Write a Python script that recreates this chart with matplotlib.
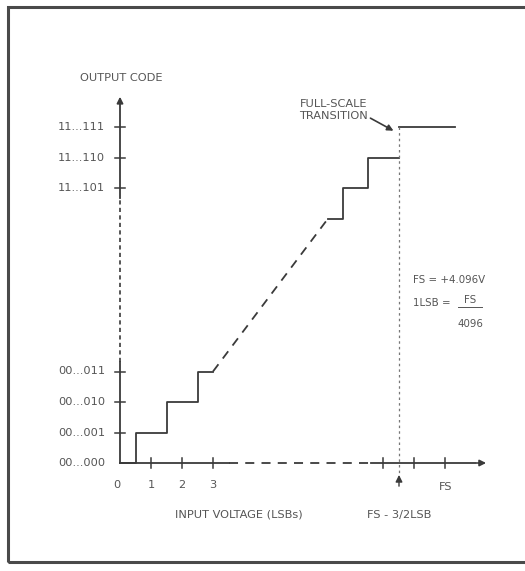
import numpy as np
import matplotlib.pyplot as plt
from matplotlib.patches import Rectangle

# Schematic ADC transfer function, units are LSBs on both axes
FS = 10.5                      # full scale position on the drawn input axis
X_END = 11.9                   # tip of input axis arrow
Y_END = 12.1                   # tip of output axis arrow

low_codes = ["00...000", "00...001", "00...010", "00...011"]
low_levels = [0, 1, 2, 3]
high_codes = ["11...101", "11...110", "11...111"]
high_levels = [9, 10, 11]

low_ticks = [1, 2, 3]
low_tick_labels = ["1", "2", "3"]
high_ticks = [FS - 2, FS - 1, FS]

# code transitions (input voltage where the output steps up)
low_transitions = [0.5, 1.5, 2.5]
high_transitions = [7.2, 8.0, FS - 1.5]
high_start = (6.7, 8)          # end of the dashed middle section
top_end = 10.8

INK = "#3a3a3a"
TXT = "#555555"
FONT = dict(family="DejaVu Sans", fontsize=8.2, color=TXT)
NOTE = dict(family="DejaVu Sans", fontsize=7.4, color=TXT)

fig = plt.figure(figsize=(5.25, 5.71), dpi=100)
ax = fig.add_axes([0, 0, 1, 1])
ax.set_xlim(-120 / 31, 405 / 31)
ax.set_ylim(-108 / 30.5, 463 / 30.5)
ax.axis("off")

# frame round the figure
fig.patches.append(Rectangle((8 / 525, 9 / 571), 1.2, 555 / 571, transform=fig.transFigure,
                             fill=False, lw=2.2, ec="#4a4a4a"))

# output axis: solid near the ends, dashed across the omitted codes
ax.plot([0, 0], [0, low_levels[-1] + 0.3], color=INK, lw=1.3)
ax.plot([0, 0], [low_levels[-1] + 0.3, high_levels[0] - 0.3], color=INK, lw=1.2, ls=(0, (2.5, 2)))
ax.plot([0, 0], [high_levels[0] - 0.3, Y_END - 0.4], color=INK, lw=1.3)
ax.annotate("", xy=(0, Y_END), xytext=(0, Y_END - 0.45),
            arrowprops=dict(arrowstyle="-|>", color=INK, lw=1.3, mutation_scale=9))

# input axis
ax.plot([0, 3.5], [0, 0], color=INK, lw=1.3)
ax.plot([3.5, 8.1], [0, 0], color=INK, lw=1.3, ls=(0, (5, 4)))
ax.plot([8.1, X_END - 0.4], [0, 0], color=INK, lw=1.3)
ax.annotate("", xy=(X_END, 0), xytext=(X_END - 0.45, 0),
            arrowprops=dict(arrowstyle="-|>", color=INK, lw=1.3, mutation_scale=9))

# tick marks
for lv in low_levels[1:] + high_levels:
    ax.plot([-0.15, 0.15], [lv, lv], color=INK, lw=1.1)
for t in low_ticks + high_ticks:
    ax.plot([t, t], [-0.18, 0.18], color=INK, lw=1.1)

# code labels
for lv, lab in zip(low_levels + high_levels, low_codes + high_codes):
    ax.text(-0.48, lv, lab, ha="right", va="center", **FONT)
ax.text(-0.1, -0.72, "0", ha="center", va="center", **FONT)
for t, lab in zip(low_ticks, low_tick_labels):
    ax.text(t, -0.72, lab, ha="center", va="center", **FONT)
ax.text(FS, -0.8, "FS", ha="center", va="center", **FONT)

# lower staircase
lx, ly = [0], [0]
for t, lv in zip(low_transitions, low_levels[1:]):
    lx += [t, t]
    ly += [ly[-1], lv]
lx.append(low_levels[-1])
ly.append(ly[-1])
ax.plot(lx, ly, color=INK, lw=1.3)

# dashed middle of the transfer curve
ax.plot([low_levels[-1], high_start[0]], [low_levels[-1], high_start[1]],
        color=INK, lw=1.3, ls=(0, (5, 4)))

# upper staircase, up to the full-scale transition
ux, uy = [high_start[0]], [high_start[1]]
for t, lv in zip(high_transitions[:-1], high_levels[:-1]):
    ux += [t, t]
    uy += [uy[-1], lv]
ux.append(high_transitions[-1])
uy.append(uy[-1])
ax.plot(ux, uy, color=INK, lw=1.3)
ax.plot([high_transitions[-1], top_end], [high_levels[-1], high_levels[-1]], color=INK, lw=1.3)

# full-scale transition marker
ax.plot([FS - 1.5, FS - 1.5], [high_levels[-1], -0.35], color="#777777", lw=0.9, ls=(0, (2, 2.5)))
ax.annotate("", xy=(FS - 1.5, -0.3), xytext=(FS - 1.5, -0.85),
            arrowprops=dict(arrowstyle="-|>", color=INK, lw=1.0, mutation_scale=10))
ax.annotate("", xy=(FS - 1.6, high_levels[-1] - 0.15), xytext=(8.0, 11.35),
            arrowprops=dict(arrowstyle="-|>", color=INK, lw=1.2, mutation_scale=9))
ax.text(6.9, 11.58, "FULL-SCALE\nTRANSITION", ha="center", va="center", linespacing=1.2, **FONT)

# axis titles
ax.text(0.03, 12.62, "OUTPUT CODE", ha="center", va="center", **FONT)
ax.text(3.84, -1.7, "INPUT VOLTAGE (LSBs)", ha="center", va="center", **FONT)
ax.text(FS - 1.5, -1.7, "FS - 3/2LSB", ha="center", va="center", **FONT)

# full-scale notes
ax.text(9.45, 6.0, "FS = +4.096V", ha="left", va="center", **NOTE)
ax.text(9.45, 5.26, "1LSB =", ha="left", va="center", **NOTE)
ax.text(11.29, 5.36, "FS", ha="center", va="center", **NOTE)
ax.plot([10.9, 11.68], [5.1, 5.1], color=TXT, lw=0.7)
ax.text(11.29, 4.55, "4096", ha="center", va="center", **NOTE)

fig.savefig("out.png", dpi=100)
